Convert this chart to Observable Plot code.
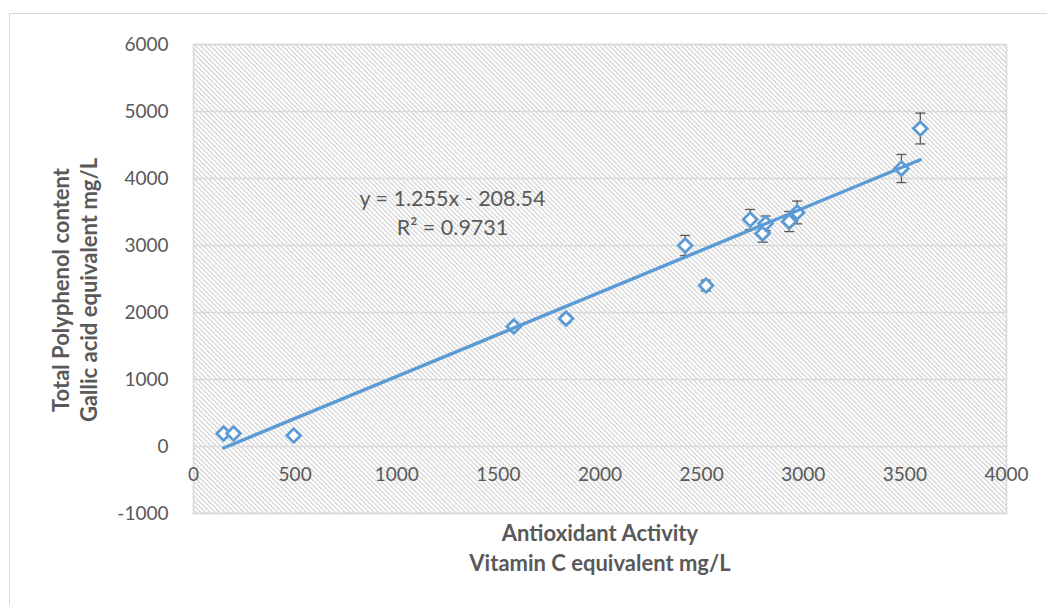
<!DOCTYPE html>
<html>
<head>
<meta charset="utf-8">
<script src="https://cdn.jsdelivr.net/npm/d3@7"></script>
<script src="https://cdn.jsdelivr.net/npm/@observablehq/plot@0.6"></script>
<style>
  html, body { margin: 0; padding: 0; background: #fff; }
  #wrap { position: relative; width: 1047px; height: 605px; overflow: hidden; }
  #border { position: absolute; left: 9px; top: 13px; width: 1100px; height: 700px; border: 1.5px solid #d9d9d9; box-sizing: border-box; }
  #chart { position: absolute; left: 0; top: 0; }
</style>
</head>
<body>
<div id="wrap"><div id="border"></div><div id="chart"></div></div>
<script>
// Data
const antioxidant = [148, 197, 493, 1576, 1833, 2419, 2522, 2739, 2800, 2815, 2931, 2970, 3483, 3576];
const polyphenol  = [194, 194, 164, 1791, 1910, 3000, 2403, 3388, 3180, 3330, 3358, 3493, 4149, 4746];
const errorBars   = [30, 30, 20, 50, 60, 150, 80, 150, 130, 110, 150, 170, 210, 230];
const xTicks = [0, 500, 1000, 1500, 2000, 2500, 3000, 3500, 4000];
const yTicks = [-1000, 0, 1000, 2000, 3000, 4000, 5000, 6000];
const trendSlope = 1.255;
const trendIntercept = -208.54;
const equationLines = ["y = 1.255x - 208.54", "R² = 0.9731"];
const xTitle = ["Antioxidant Activity", "Vitamin C equivalent mg/L"];
const yTitle = ["Total Polyphenol content", "Gallic acid equivalent mg/L"];

const points = antioxidant.map((x, i) => ({x, y: polyphenol[i], e: errorBars[i]}));
const xExtent = d3.extent(antioxidant);
const trend = xExtent.map(x => ({x, y: trendSlope * x + trendIntercept}));

const blue = "#5b9bd5";
const grey = "#595959";
const font = "Lato, 'Open Sans', sans-serif";

const capSymbol = {
  draw(ctx, size) {
    const w = Math.sqrt(size / Math.PI);
    ctx.moveTo(-w, 0);
    ctx.lineTo(w, 0);
  }
};

const titleStyle = {fontSize: 22, fontWeight: "bold", fill: grey, letterSpacing: "1.3px", textAnchor: "middle", lineAnchor: "middle"};

const plot = Plot.plot({
  width: 1047,
  height: 605,
  marginLeft: 193,
  marginRight: 41,
  marginTop: 44,
  marginBottom: 92,
  style: {fontFamily: font, background: "transparent"},
  x: {domain: [0, 4000], axis: null},
  y: {domain: [-1000, 6000], ticks: yTicks},
  marks: [
    Plot.frame({fill: "url(#hatch)", stroke: "none"}),
    Plot.gridY(yTicks, {stroke: "#d9d9d9", strokeOpacity: 1, strokeWidth: 1.6}),
    Plot.frame({stroke: "#d9d9d9", strokeWidth: 1.6}),
    Plot.axisY(yTicks, {tickSize: 0, tickPadding: 25, fontSize: 19, fill: grey, label: null, tickFormat: d => String(d)}),
    Plot.text(xTicks, {x: d => d, y: () => 0, dy: 28, text: d => String(d), fontSize: 19, fill: grey}),
    // error bars
    Plot.ruleX(points, {x: "x", y1: d => d.y - d.e, y2: d => d.y + d.e, stroke: grey, strokeWidth: 1.3}),
    Plot.dot(points, {x: "x", y: d => d.y - d.e, symbol: capSymbol, r: 5, stroke: grey, strokeWidth: 1.3}),
    Plot.dot(points, {x: "x", y: d => d.y + d.e, symbol: capSymbol, r: 5, stroke: grey, strokeWidth: 1.3}),
    // markers
    Plot.dot(points, {x: "x", y: "y", symbol: "diamond2", r: 6.2, stroke: blue, fill: "white", strokeWidth: 2.8}),
    // trendline
    Plot.line(trend, {x: "x", y: "y", stroke: blue, strokeWidth: 3.4}),
    // equation label
    Plot.text([equationLines[0]], {frameAnchor: "top-left", dx: 259, dy: 155, text: d => d, fontSize: 21.5, fill: grey, textAnchor: "middle", lineAnchor: "middle"}),
    Plot.text([equationLines[1]], {frameAnchor: "top-left", dx: 259, dy: 184, text: d => d, fontSize: 21.5, fill: grey, textAnchor: "middle", lineAnchor: "middle"}),
    // axis titles
    Plot.text([xTitle[0]], {frameAnchor: "bottom", dy: 20, text: d => d, ...titleStyle}),
    Plot.text([xTitle[1]], {frameAnchor: "bottom", dy: 50, text: d => d, ...titleStyle}),
    Plot.text([yTitle[0]], {frameAnchor: "left", dx: -132, dy: 11, rotate: -90, text: d => d, ...titleStyle}),
    Plot.text([yTitle[1]], {frameAnchor: "left", dx: -104, dy: 11, rotate: -90, text: d => d, ...titleStyle})
  ]
});

// hatch pattern definition used by the frame fill
const svgNS = "http://www.w3.org/2000/svg";
const defs = document.createElementNS(svgNS, "defs");
defs.innerHTML = `<pattern id="hatch" patternUnits="userSpaceOnUse" width="3.4" height="3.4" patternTransform="rotate(-45)">
  <rect width="3.4" height="3.4" fill="#ffffff"/>
  <line x1="0.6" y1="0" x2="0.6" y2="3.4" stroke="#cdcdcd" stroke-width="1.1"/>
</pattern>`;
plot.insertBefore(defs, plot.firstChild);
document.getElementById("chart").appendChild(plot);
</script>
</body>
</html>
